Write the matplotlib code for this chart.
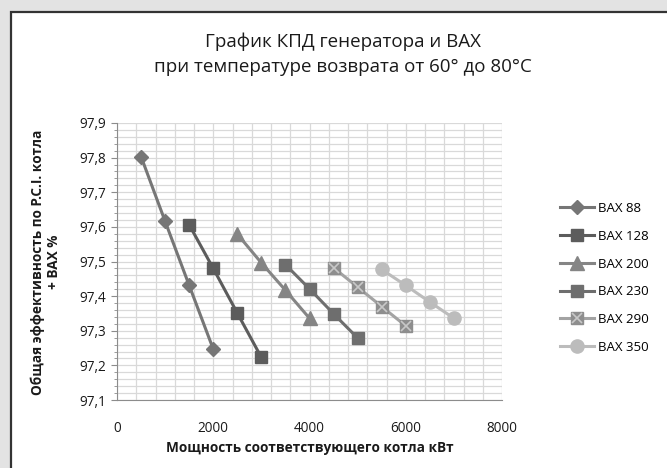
import matplotlib.pyplot as plt
from matplotlib.patches import Rectangle
from matplotlib.ticker import MultipleLocator, FuncFormatter

plt.rcParams['font.family'] = ['Open Sans', 'DejaVu Sans']

# boiler power, kW
p88 = [500, 1000, 1500, 2000]
p128 = [1500, 2000, 2500, 3000]
p200 = [2500, 3000, 3500, 4000]
p230 = [3500, 4000, 4500, 5000]
p290 = [4500, 5000, 5500, 6000]
p350 = [5500, 6000, 6500, 7000]

# total efficiency, %
e88 = [97.803, 97.616, 97.431, 97.247]
e128 = [97.606, 97.480, 97.351, 97.223]
e200 = [97.579, 97.496, 97.417, 97.336]
e230 = [97.491, 97.421, 97.349, 97.279]
e290 = [97.482, 97.426, 97.370, 97.314]
e350 = [97.477, 97.431, 97.383, 97.336]

names = ['BAX 88', 'BAX 128', 'BAX 200', 'BAX 230', 'BAX 290', 'BAX 350']

W, H = 667, 468
fig = plt.figure(figsize=(W / 100, H / 100), dpi=100, facecolor='#e3e3e3')

# white chart area with dark frame
fig.patches.append(Rectangle((10.5 / W, -0.01), 1.0, (H - 11.5) / H + 0.01,
                             transform=fig.transFigure, facecolor='white',
                             edgecolor='#333333', linewidth=1.6, zorder=-5))

ax = fig.add_axes([117 / W, 1 - 400 / H, (502 - 117) / W, (400 - 123) / H], zorder=2)
ax.set_xlim(0, 8000)
ax.set_ylim(97.1, 97.9)

ax.xaxis.set_major_locator(MultipleLocator(2000))
ax.xaxis.set_minor_locator(MultipleLocator(400))
ax.yaxis.set_major_locator(MultipleLocator(0.1))
ax.yaxis.set_minor_locator(MultipleLocator(0.02))
ax.yaxis.set_major_formatter(FuncFormatter(lambda v, _: ('%.1f' % v).replace('.', ',')))

ax.grid(which='both', color='#d9d9d9', linewidth=0.9)
ax.set_axisbelow(True)
for s in ['top', 'right']:
    ax.spines[s].set_visible(False)
ax.spines['left'].set_color('#8c8c8c')
ax.spines['bottom'].set_color('#8c8c8c')
ax.tick_params(axis='both', which='major', labelsize=9.8, colors='#8c8c8c',
               labelcolor='#1a1a1a', length=4)
ax.tick_params(axis='x', which='both', length=0, pad=15)
ax.tick_params(axis='y', which='minor', length=2, colors='#8c8c8c')

lw = 2.2
ax.plot(p88, e88, color='#767676', lw=lw, marker='D', ms=7.5, label=names[0])
ax.plot(p128, e128, color='#5c5c5c', lw=lw, marker='s', ms=9, label=names[1])
ax.plot(p200, e200, color='#858585', lw=lw, marker='^', ms=10, label=names[2])
ax.plot(p230, e230, color='#6e6e6e', lw=lw, marker='s', ms=9, label=names[3])
l290, = ax.plot(p290, e290, color='#a3a3a3', lw=lw, marker='s', ms=9,
                mfc='#8e8e8e', mec='#8e8e8e', label=names[4])
x290, = ax.plot(p290, e290, ls='none', marker='x', ms=7, mew=1.2, color='#c8c8c8')
ax.plot(p350, e350, color='#bcbcbc', lw=lw, marker='o', ms=9.5, label=names[5])

handles, labels = ax.get_legend_handles_labels()
handles[4] = (l290, x290)
fig.legend(handles, labels, loc='upper left', bbox_to_anchor=(560 / W, 1 - 202 / H),
           frameon=False, fontsize=9.5, handlelength=2.6, labelspacing=1.12,
           handletextpad=0.25, borderaxespad=0, borderpad=0)

fig.text(343 / W, 1 - 42 / H, 'График КПД генератора и ВАХ', ha='center', va='center',
         fontsize=13.5, color='#1a1a1a')
fig.text(343 / W, 1 - 67 / H, 'при температуре возврата от 60° до 80°С', ha='center',
         va='center', fontsize=13.5, color='#1a1a1a')

fig.text(310 / W, 1 - 448 / H, 'Мощность соответствующего котла кВт', ha='center',
         va='center', fontsize=9.8, fontweight='bold', color='#1a1a1a')
fig.text(46 / W, 1 - 262 / H, 'Общая эффективность по P.C.I. котла\n+ BAX %', ha='center',
         va='center', rotation=90, fontsize=9.8, fontweight='bold', color='#1a1a1a',
         linespacing=1.15)

fig.savefig('out.png', dpi=100, facecolor=fig.get_facecolor())
